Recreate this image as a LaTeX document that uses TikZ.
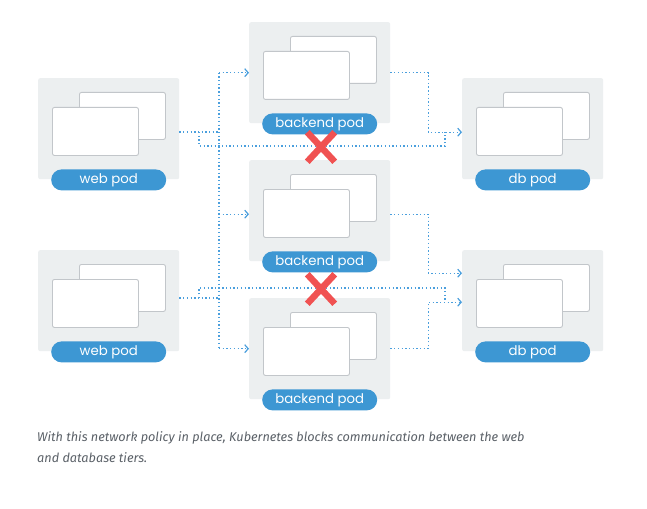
\documentclass[tikz,border=0pt]{standalone}
\usepackage{fontspec}
\setmainfont{Poppins}
\newfontfamily\capfont{Fira Sans}
\usetikzlibrary{arrows.meta,shapes.misc}
\definecolor{boxgray}{HTML}{ECEFF0}
\definecolor{cardgray}{HTML}{C2C6CA}
\definecolor{pillblue}{HTML}{3D97D3}
\definecolor{connblue}{HTML}{4A9FDD}
\definecolor{xred}{HTML}{F05252}
\definecolor{captext}{HTML}{5B6168}
\tikzset{
 podbox/.style={fill=boxgray, rounded corners=2pt, minimum width=141pt, minimum height=101pt, inner sep=0pt, anchor=north west},
 card/.style={draw=cardgray, fill=white, line width=0.9pt, rounded corners=2pt, minimum width=86pt, minimum height=47pt, inner sep=0pt, anchor=north west},
 pill/.style={fill=pillblue, rounded rectangle, minimum width=115pt, minimum height=21pt, inner sep=0pt, text=white, font=\fontsize{13.3}{14}\selectfont},
 conn/.style={connblue, line width=1.35pt, dash pattern=on 1.35pt off 2.35pt},
 tip/.style={-{Straight Barb[length=3.5pt,width=8pt,line width=1.2pt]}},
 xmark/.style={cross out, draw=xred, line width=6.5pt, minimum width=21pt, minimum height=23pt, inner sep=0pt},
}
\newcommand\mypod[4]{%
 \node[podbox] (#1) at (#2,#3) {};
 \node[card] (#1back) at ([xshift=41pt,yshift=-14pt]#1.north west) {};
 \node[card, minimum height=48pt] (#1front) at ([xshift=14pt,yshift=-29pt]#1.north west) {};
 \node[pill] (#1label) at ([yshift=-0.5pt]#1.south) {#4};
}
\begin{document}
\begin{tikzpicture}[x=1pt,y=-1pt]
\fill[white] (0,0) rectangle (647,508);
\useasboundingbox (0,0) rectangle (647,508);
\mypod{web1}{38}{78}{web pod}
\mypod{web2}{38}{250}{web pod}
\mypod{back1}{249}{22}{backend pod}
\mypod{back2}{249}{160}{backend pod}
\mypod{back3}{249}{298}{backend pod}
\mypod{db1}{462}{78}{db pod}
\mypod{db2}{462}{250}{db pod}
% coordinates
\coordinate (bus1) at (219,132);
\coordinate (bus2) at (219,298);
\coordinate (jw1) at (199,132);
\coordinate (bk1a) at (199,146);
\coordinate (bk1b) at (445,146);
\coordinate (jd1) at (445,132);
\coordinate (jw2) at (199,298);
\coordinate (bk2a) at (199,288);
\coordinate (bk2b) at (445,288);
\coordinate (jd2) at (445,302);
\coordinate (b2in) at ([yshift=-3.5pt]back2.west);
\coordinate (b2out) at ([yshift=-3.5pt]back2.east);
\coordinate (d1in) at ([yshift=-3.5pt]db1.west);
\coordinate (d2in1) at ([yshift=27.5pt]db2.west);
\coordinate (d2in2) at ([yshift=-1.5pt]db2.west);
% web to backend
\draw[conn] (web1.east |- bus1) -- (bus1);
\draw[conn] (web2.east |- bus2) -- (bus2);
\draw[conn] (bus1 |- back1.west) -- (bus1 |- back3.west);
\draw[conn,tip] (bus1 |- back1.west) -- (back1.west);
\draw[conn,tip] (bus1 |- b2in) -- (b2in);
\draw[conn,tip] (bus1 |- back3.west) -- (back3.west);
% backend to db
\draw[conn,tip] (back1.east) -- ++(38,0) |- (d1in);
\draw[conn,tip] (b2out) -- ++(38,0) |- (d2in1);
\draw[conn,tip] (back3.east) -- ++(38,0) |- (d2in2);
% blocked web to db
\draw[conn] (jw1) -- (bk1a) -- (bk1b) -- (jd1);
\draw[conn] (jw2) -- (bk2a) -- (bk2b) -- (jd2);
\node[xmark] (x1) at (321,147) {};
\node[xmark] (x2) at (321,289) {};
\node[anchor=base west, align=left, text=captext, inner sep=0pt,
  font=\capfont\itshape\fontsize{12.7}{21}\selectfont] (cap) at (37,462)
  {With this network policy in place, Kubernetes blocks communication between the web\\and database tiers.};
\end{tikzpicture}
\end{document}
